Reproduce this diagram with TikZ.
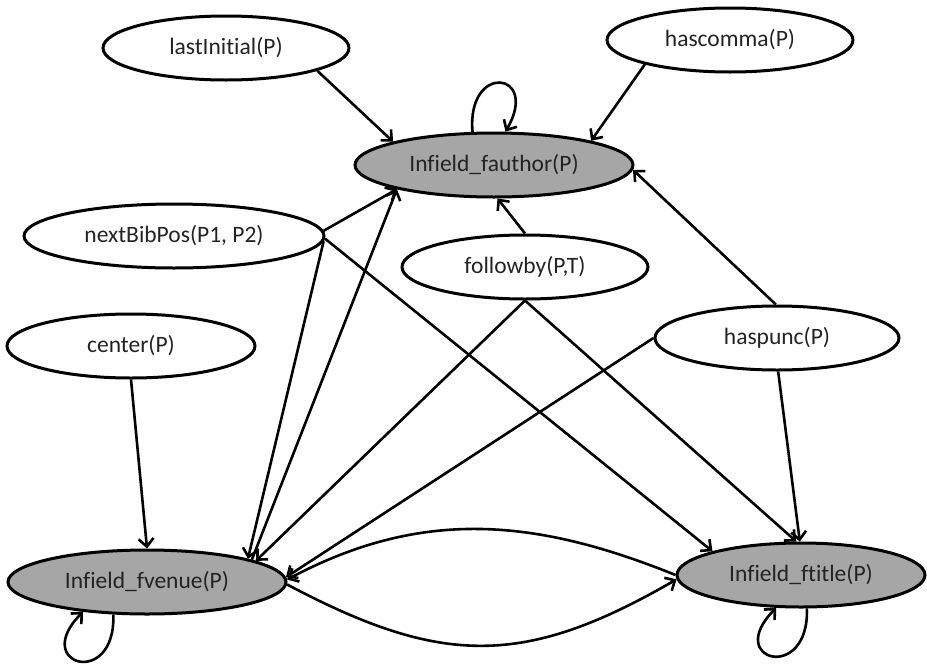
\documentclass[tikz,border=0pt]{standalone}
\usepackage{fontspec}
\setmainfont{Carlito}[Ligatures=NoCommon]
\usetikzlibrary{shapes.geometric,arrows.meta}
\definecolor{fieldgray}{RGB}{166,166,166}
\definecolor{labelink}{RGB}{35,35,35}
\begin{document}
\begin{tikzpicture}[x=1pt,y=1pt,
  pred/.style={ellipse, draw=black, line width=3pt, inner sep=0pt,
    minimum height=64, font=\fontsize{23.5}{28}\selectfont, text=labelink},
  query/.style={pred, fill=fieldgray},
  link/.style={line width=2.6pt, -{Straight Barb[length=8pt,width=15pt]}},
  selfloop/.style={link, out=-88, in=225, out distance=75pt, in distance=75pt},
]
\useasboundingbox (0,0) rectangle (927,-664);

% evidence predicates
\node[pred, minimum width=246] (LI) at (226,-48)  {lastInitial(P)};
\node[pred, minimum width=246] (HC) at (730,-40)  {hascomma(P)};
\node[pred, minimum width=300] (NB) at (174,-236) {nextBibPos(P1, P2)};
\node[pred, minimum width=246] (FB) at (525,-267) {followby(P,T)};
\node[pred, minimum width=248] (CE) at (131,-346) {center(P)};
\node[pred, minimum width=244] (HP) at (777,-338) {haspunc(P)};

% query predicates
\node[query, minimum width=278] (FA) at (494,-165) {Infield\_fauthor(P)};
\node[query, minimum width=278] (FV) at (147,-582) {Infield\_fvenue(P)};
\node[query, minimum width=248] (FT) at (801,-575) {Infield\_ftitle(P)};

% straight dependencies
\draw[link] (LI.-14)  -- (FA.167);
\draw[link] (HC.196)  -- (FA.14);
\draw[link] (NB.2)    -- (FA.194);
\draw[link] (NB.-2)   -- (FV.13);
\draw[link] (NB.-1)   -- (FT.165);
\draw[link] (FV.12)   -- (FA.194);
\draw[link] (FB.90)   -- (FA.-84);
\draw[link] (FB.-90)  -- (FV.11);
\draw[link] (FB.-90)  -- (FT.98);
\draw[link] (HP.92)   -- (FA.-2);
\draw[link] (HP.180)  -- (FV.2);
\draw[link] (HP.-88)  -- (FT.92);
\draw[link] (CE.-90)  -- (FV.90);

% venue <-> title
\draw[link] (FT.180) to[out=158, in=28] (FV.1);
\draw[link] (FV.-1) to[out=-28, in=-150, looseness=1.15] (FT.182);

% self loops
\draw[link] (FA.123) to[out=95, in=60, distance=70pt] (FA.71);
\draw[selfloop] (FV.-136) to (FV.-155);
\draw[selfloop] (FT.-80) to (FT.-127);
\end{tikzpicture}
\end{document}
